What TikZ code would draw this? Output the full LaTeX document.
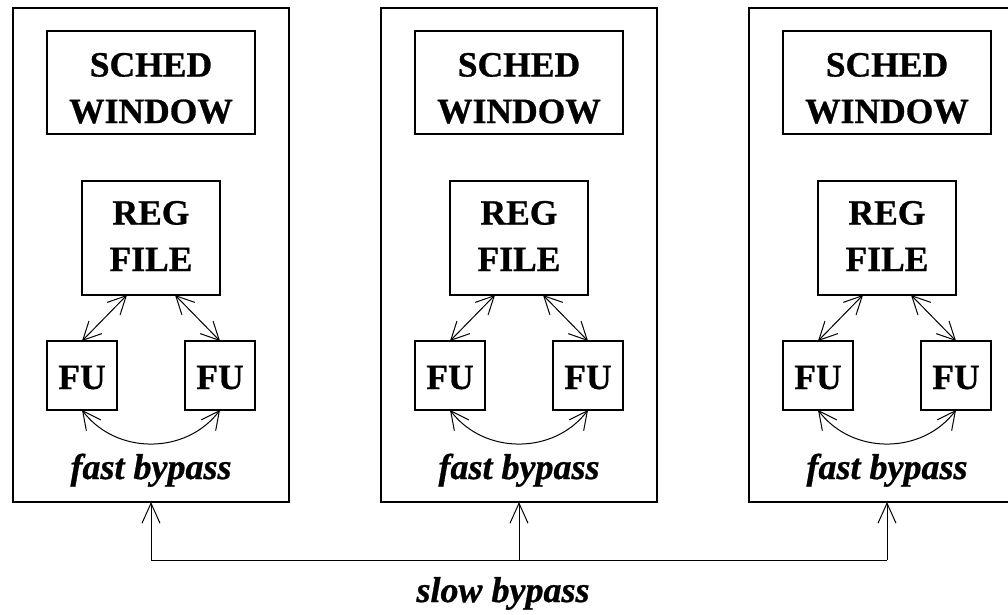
\documentclass[tikz,border=0pt]{standalone}
\usepackage{fontspec}
\setmainfont{Liberation Serif}[BoldFeatures={FakeBold=0.8},BoldItalicFeatures={FakeBold=0.8}]
\usetikzlibrary{arrows.meta,calc}
\begin{document}
\begin{tikzpicture}[x=1pt,y=-1pt,
  box/.style={draw, line width=1.1pt, inner sep=0pt, outer sep=0pt},
  lbl/.style={font=\fontsize{35.5}{42}\selectfont\bfseries, inner sep=0pt, anchor=base},
  ilbl/.style={font=\fontsize{36}{42}\selectfont\bfseries\itshape, inner sep=0pt, anchor=base},
  conn/.style={line width=1pt, line cap=round, {Straight Barb[length=18pt,width=18pt]}-{Straight Barb[length=18pt,width=18pt]}},
  uparrow/.style={line width=1pt, -{Straight Barb[length=20pt,width=18pt]}},
]
\useasboundingbox (0,0) rectangle (1008,614);
\clip (0,0) rectangle (1008,614);
\foreach \i/\dx in {1/0,2/368,3/736} {
  \node[box, minimum width=276pt, minimum height=494pt] (b\i) at (151+\dx,255) {};
  \node[box, minimum width=208pt, minimum height=103pt] (s\i) at (151+\dx,82.5) {};
  \node[lbl] (st\i) at (151+\dx,76.5) {SCHED};
  \node[lbl] (sb\i) at (151+\dx,123) {WINDOW};
  \node[box, minimum width=138pt, minimum height=114pt] (r\i) at (151+\dx,238) {};
  \node[lbl] (rt\i) at (151+\dx,224.5) {REG};
  \node[lbl] (rb\i) at (151+\dx,271) {FILE};
  \node[box, minimum width=70pt, minimum height=69pt] (fl\i) at (82+\dx,375.5) {};
  \node[box, minimum width=70pt, minimum height=69pt] (fr\i) at (220+\dx,375.5) {};
  \node[lbl] (flt\i) at (82+\dx,389) {FU};
  \node[lbl] (frt\i) at (220+\dx,389) {FU};
  \node[ilbl] (fb\i) at (151+\dx,479) {fast bypass};
  \draw[conn] ($(r\i.south)+(-24,0)$) -- (fl\i.north);
  \draw[conn] ($(r\i.south)+(24,0)$) -- (fr\i.north);
  \draw[conn] (fl\i.south) .. controls ($(fl\i.south)+(34,45)$) and ($(fr\i.south)+(-34,45)$) .. (fr\i.south);
}
\coordinate (j1) at (151,560);
\coordinate (j2) at (519,560);
\coordinate (j3) at (887,560);
\draw[line width=1pt] (j1) -- (j3);
\draw[uparrow] (j1) -- (b1.south);
\draw[uparrow] (j2) -- (b2.south);
\draw[uparrow] (j3) -- (b3.south);
\node[ilbl] (slow) at (503,602) {slow bypass};
\end{tikzpicture}
\end{document}
